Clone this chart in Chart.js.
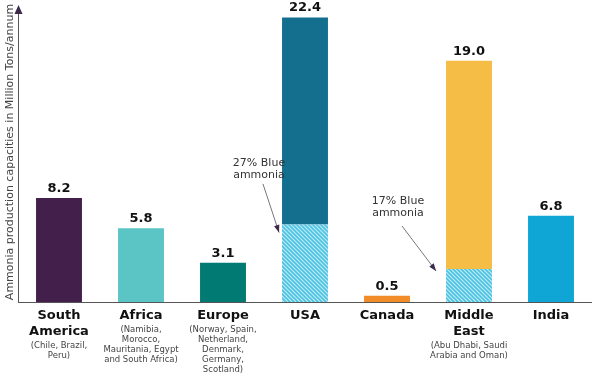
<!DOCTYPE html>
<html>
<head>
<meta charset="utf-8">
<script src="https://cdn.jsdelivr.net/npm/chart.js@4.4.1/dist/chart.umd.min.js"></script>
<style>
  html, body { margin: 0; padding: 0; background: #fff; }
  #wrap { width: 600px; height: 376px; position: relative; }
</style>
</head>
<body>
<div id="wrap"><canvas id="chart"></canvas></div>
<script>
// data
const regions = ['South America', 'Africa', 'Europe', 'USA', 'Canada', 'Middle East', 'India'];
const mainLabels = [['South', 'America'], ['Africa'], ['Europe'], ['USA'], ['Canada'], ['Middle', 'East'], ['India']];
const subLabels = [
  ['(Chile, Brazil,', 'Peru)'],
  ['(Namibia,', 'Morocco,', 'Mauritania, Egypt', 'and South Africa)'],
  ['(Norway, Spain,', 'Netherland,', 'Denmark,', 'Germany,', 'Scotland)'],
  [],
  [],
  ['(Abu Dhabi, Saudi', 'Arabia and Oman)'],
  []
];
const totals = [8.2, 5.8, 3.1, 22.4, 0.5, 19.0, 6.8];
const blueShare = [0, 0, 0, 6.1, 0, 2.6, 0];   // hatched "blue ammonia" part
const barColors = ['#43204b', '#5bc5c5', '#007a72', '#146f8e', '#f28c28', '#f5bd45', '#0fa6d6'];
const notes = [
  { text: ['27% Blue', 'ammonia'], idx: 3 },
  { text: ['17% Blue', 'ammonia'], idx: 5 }
];

const rest = totals.map((t, i) => +(t - blueShare[i]).toFixed(2));

// diagonal hatch for the blue ammonia part
function makeHatch() {
  const c = document.createElement('canvas');
  c.width = 4; c.height = 4;
  const g = c.getContext('2d');
  g.fillStyle = '#bfeaf5';
  g.fillRect(0, 0, 4, 4);
  g.strokeStyle = '#4cc3e3';
  g.lineWidth = 1.6;
  g.beginPath();
  g.moveTo(-1, -1); g.lineTo(5, 5);
  g.moveTo(-1, 3); g.lineTo(1, 5);
  g.moveTo(3, -1); g.lineTo(5, 1);
  g.stroke();
  return g.createPattern(c, 'repeat');
}
const ctx0 = document.getElementById('chart').getContext('2d');
const hatch = makeHatch();

const font = '"DejaVu Sans", Verdana, sans-serif';

// where the notes sit and where their arrows start / end (relative to the bar)
const notePos = [
  { tx: 259, ty: 158, sx: 263, sy: 184, dx: -3, dy: 8 },
  { tx: 398, ty: 196, sx: 402, sy: 226, dx: -10, dy: 2 }
];

const decor = {
  id: 'decor',
  afterDatasetsDraw(chart) {
    const ctx = chart.ctx;
    const x = chart.scales.x, y = chart.scales.y;
    const a = chart.chartArea;
    ctx.save();

    // axes
    ctx.strokeStyle = '#555';
    ctx.lineWidth = 1;
    ctx.beginPath();
    ctx.moveTo(18, a.bottom + 0.5);
    ctx.lineTo(592, a.bottom + 0.5);
    ctx.moveTo(18.5, a.bottom);
    ctx.lineTo(18.5, 12);
    ctx.stroke();
    ctx.fillStyle = '#3b2a4a';
    ctx.beginPath();
    ctx.moveTo(18.5, 5);
    ctx.lineTo(14.5, 14);
    ctx.lineTo(22.5, 14);
    ctx.closePath();
    ctx.fill();

    // axis title
    ctx.save();
    ctx.translate(10, 152);
    ctx.rotate(-Math.PI / 2);
    ctx.fillStyle = '#444';
    ctx.font = '11px ' + font;
    ctx.textAlign = 'center';
    ctx.textBaseline = 'middle';
    ctx.fillText('Ammonia production capacities in Million Tons/annum', 0, 0);
    ctx.restore();

    // value labels
    ctx.fillStyle = '#111';
    ctx.font = 'bold 13px ' + font;
    ctx.textAlign = 'center';
    ctx.textBaseline = 'bottom';
    totals.forEach((v, i) => {
      ctx.fillText(v.toFixed(1), x.getPixelForValue(i), y.getPixelForValue(v) - 3);
    });

    // category labels
    ctx.textBaseline = 'top';
    regions.forEach((r, i) => {
      const cx = x.getPixelForValue(i);
      let ty = a.bottom + 7;
      ctx.fillStyle = '#111';
      ctx.font = 'bold 13px ' + font;
      mainLabels[i].forEach(l => { ctx.fillText(l, cx, ty); ty += 16; });
      ty += 1;
      ctx.fillStyle = '#444';
      ctx.font = '8.5px ' + font;
      subLabels[i].forEach(l => { ctx.fillText(l, cx, ty); ty += 10; });
    });

    // annotations with arrows
    notes.forEach((n, k) => {
      const p = notePos[k];
      const meta = chart.getDatasetMeta(0).data[n.idx];
      const ex = meta.x - meta.width / 2 + p.dx;
      const ey = y.getPixelForValue(blueShare[n.idx]) + p.dy;
      ctx.fillStyle = '#333';
      ctx.font = '11px ' + font;
      ctx.textAlign = 'center';
      ctx.textBaseline = 'top';
      n.text.forEach((l, j) => ctx.fillText(l, p.tx, p.ty + j * 12));
      ctx.strokeStyle = '#777';
      ctx.lineWidth = 1;
      ctx.beginPath();
      ctx.moveTo(p.sx, p.sy);
      ctx.lineTo(ex, ey);
      ctx.stroke();
      const ang = Math.atan2(ey - p.sy, ex - p.sx);
      ctx.fillStyle = '#3b2a4a';
      ctx.beginPath();
      ctx.moveTo(ex, ey);
      ctx.lineTo(ex - 8 * Math.cos(ang - 0.35), ey - 8 * Math.sin(ang - 0.35));
      ctx.lineTo(ex - 8 * Math.cos(ang + 0.35), ey - 8 * Math.sin(ang + 0.35));
      ctx.closePath();
      ctx.fill();
    });
    ctx.restore();
  }
};

new Chart(ctx0, {
  type: 'bar',
  data: {
    labels: regions,
    datasets: [{
      label: 'Blue ammonia',
      data: blueShare,
      backgroundColor: hatch,
      barPercentage: 0.56,
      categoryPercentage: 1
    }, {
      label: 'Other',
      data: rest,
      backgroundColor: barColors,
      barPercentage: 0.56,
      categoryPercentage: 1
    }]
  },
  options: {
    responsive: true,
    maintainAspectRatio: false,
    animation: false,
    layout: { padding: { left: 18, right: 8, top: 10, bottom: 74 } },
    plugins: { legend: { display: false }, tooltip: { enabled: false } },
    scales: {
      x: { stacked: true, display: false },
      y: { stacked: true, display: false, min: 0, max: 23 }
    }
  },
  plugins: [decor]
});
</script>
</body>
</html>
